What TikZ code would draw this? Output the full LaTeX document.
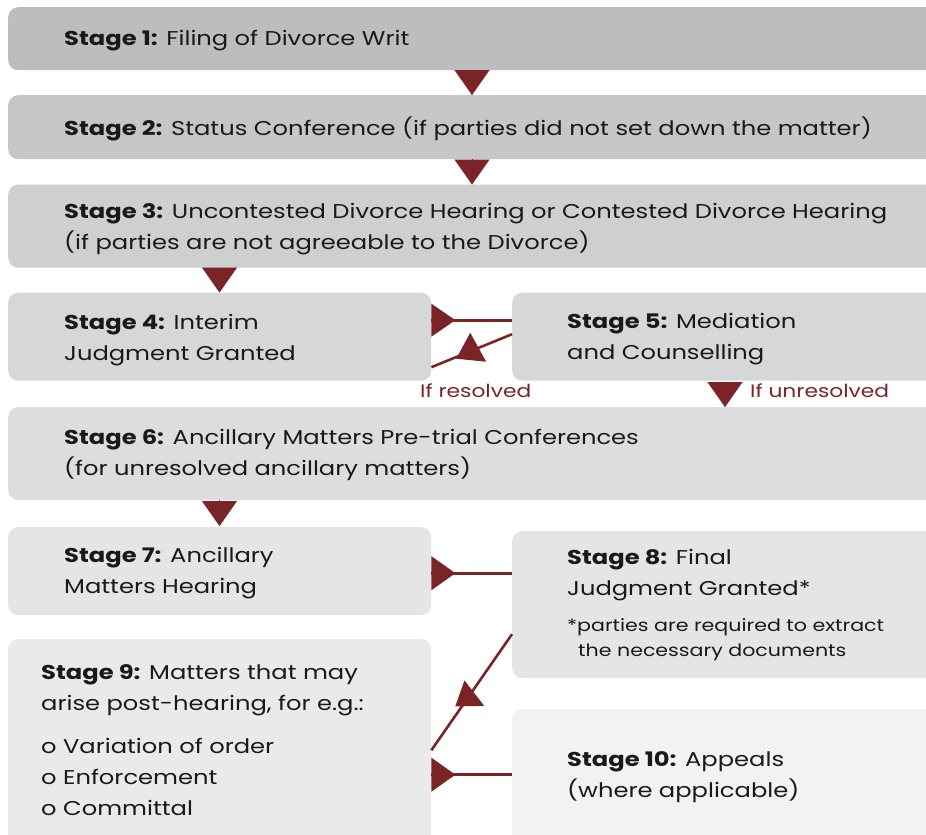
\documentclass[tikz,border=0pt]{standalone}
\usepackage{fontspec}
\setmainfont{Poppins}[FakeStretch=1.21]
\usepackage{xcolor}
\usetikzlibrary{arrows.meta}

\definecolor{tipred}{HTML}{7B2428}
\definecolor{greyA}{HTML}{BCBDBF}
\definecolor{greyB}{HTML}{C5C6C8}
\definecolor{greyC}{HTML}{CECFD1}
\definecolor{greyD}{HTML}{D6D7D9}
\definecolor{greyE}{HTML}{DCDDDF}
\definecolor{greyF}{HTML}{E4E5E6}
\definecolor{greyG}{HTML}{EAEAEA}
\definecolor{greyH}{HTML}{F1F2F2}

\tikzset{
	stagebox/.style={rounded corners=10pt, anchor=north west, inner sep=0pt},
	stagetext/.style={anchor=west, align=left, inner sep=0pt, text=black!90,
		font=\fontsize{20}{31}\selectfont},
	notetext/.style={anchor=west, align=left, inner sep=0pt, text=black!90,
		font=\fontsize{17}{25}\selectfont},
	branchtext/.style={anchor=west, inner sep=0pt, text=tipred,
		font=\fontsize{18}{22}\selectfont},
	link/.style={draw=tipred, line width=2.6pt},
	downtip/.style={-{Triangle[width=35pt,length=25pt]}, draw=tipred, fill=tipred, line width=0.1pt},
}

\begin{document}
\begin{tikzpicture}[x=1pt,y=-1pt]
		\useasboundingbox (0,0) rectangle (926,835);

		% boxes
		\node[stagebox, fill=greyA, minimum width=940pt, minimum height=63pt] (s1) at (8,7) {};
		\node[stagebox, fill=greyB, minimum width=940pt, minimum height=64pt] (s2) at (8,95) {};
		\node[stagebox, fill=greyC, minimum width=940pt, minimum height=83pt] (s3) at (8,184.5) {};
		\node[stagebox, fill=greyD, minimum width=423pt, minimum height=88pt] (s4) at (8,292.5) {};
		\node[stagebox, fill=greyD, minimum width=430pt, minimum height=88pt] (s5) at (512,292.5) {};
		\node[stagebox, fill=greyE, minimum width=940pt, minimum height=93pt] (s6) at (8,407) {};
		\node[stagebox, fill=greyF, minimum width=423pt, minimum height=88pt] (s7) at (8,527) {};
		\node[stagebox, fill=greyF, minimum width=430pt, minimum height=147pt] (s8) at (512,531) {};
		\node[stagebox, fill=greyG, minimum width=423pt, minimum height=230pt] (s9) at (8,639) {};
		\node[stagebox, fill=greyH, minimum width=430pt, minimum height=150pt] (s10) at (512,709) {};

		% texts
		\node[stagetext] (t1) at ([xshift=56pt,yshift=-1.5pt]s1.west) {\textbf{Stage 1:} Filing of Divorce Writ};
		\node[stagetext] (t2) at ([xshift=56pt,yshift=-1.5pt]s2.west) {\textbf{Stage 2:} Status Conference (if parties did not set down the matter)};
		\node[stagetext] (t3) at ([xshift=56pt,yshift=-2.5pt]s3.west) {\textbf{Stage 3:} Uncontested Divorce Hearing or Contested Divorce Hearing\\(if parties are not agreeable to the Divorce)};
		\node[stagetext] (t4) at ([xshift=56pt,yshift=-3.5pt]s4.west) {\textbf{Stage 4:} Interim\\Judgment Granted};
		\node[stagetext] (t5) at ([xshift=55pt,yshift=-2.5pt]s5.west) {\textbf{Stage 5:} Mediation\\and Counselling};
		\node[stagetext] (t6) at ([xshift=56pt,yshift=-1.5pt]s6.west) {\textbf{Stage 6:} Ancillary Matters Pre-trial Conferences\\(for unresolved ancillary matters)};
		\node[stagetext] (t7) at ([xshift=56pt,yshift=-1.5pt]s7.west) {\textbf{Stage 7:} Ancillary\\Matters Hearing};
		\node[stagetext] (t8) at (567,575) {\textbf{Stage 8:} Final\\Judgment Granted*};
		\node[notetext] (n8) at (567,640) {*parties are required to extract\\\hspace*{11pt}the necessary documents};
		\node[stagetext] (t9) at (41,690.5) {\textbf{Stage 9:} Matters that may\\arise post-hearing, for e.g.:};
		\node[stagetext] (l9) at (41,776.5) {o Variation of order\\o Enforcement\\o Committal};
		\node[stagetext] (t10) at ([xshift=55pt]s10.west |- 0,777.5) {\textbf{Stage 10:} Appeals\\(where applicable)};

		\node[branchtext] (yes) at (420,390.5) {If resolved};
		\node[branchtext] (no) at (750,390.5) {If unresolved};

		% downward tips
		\coordinate (c12) at (472,0);
		\coordinate (c34) at (219.5,0);
		\coordinate (c56) at (725,0);

		\draw[downtip] (s1.south -| c12) -- (s2.north -| c12);
		\draw[downtip] (s2.south -| c12) -- (s3.north -| c12);
		\draw[downtip] (s3.south -| c34) -- (s4.north -| c34);
		\draw[downtip] ([yshift=-1.5pt]s5.south -| c56) -- (s6.north -| c56);
		\draw[downtip] (s6.south -| c34) -- ([yshift=1pt]s7.north -| c34);

		% sideways links
		\fill[tipred] ([yshift=16.5pt]s4.east) ++(0,-16.5) -- ++(24,16.5) -- ++(-24,16.5) -- cycle;
		\draw[link] ([yshift=16.5pt]s4.east) -- ([yshift=16.5pt]s4.east -| s5.west);

		\draw[link] ([yshift=2.5pt]s5.west) -- coordinate[pos=0.51] (m45) ([yshift=-30.5pt]s4.east);
		\fill[tipred] (m45) ++(-0.7,-18.3) -- ++(-14,26) -- ++(30,3) -- cycle;

		\fill[tipred] ([yshift=-2pt]s7.east) ++(0,-17) -- ++(24,17) -- ++(-24,17) -- cycle;
		\draw[link] ([yshift=-2pt]s7.east) -- ([yshift=-2pt]s7.east -| s8.west);

		\draw[link] ([yshift=-29.5pt]s8.west) -- coordinate[pos=0.546] (m89) ([yshift=4pt]s9.east);
		\fill[tipred] (m89) ++(-3.5,-17.1) -- ++(-9.3,26) -- ++(29,-0.6) -- cycle;

		\fill[tipred] ([yshift=-20.5pt]s9.east) ++(0,-17) -- ++(24,17) -- ++(-24,17) -- cycle;
		\draw[link] ([yshift=-20.5pt]s9.east) -- ([yshift=-20.5pt]s9.east -| s10.west);
	\end{tikzpicture}
\end{document}
